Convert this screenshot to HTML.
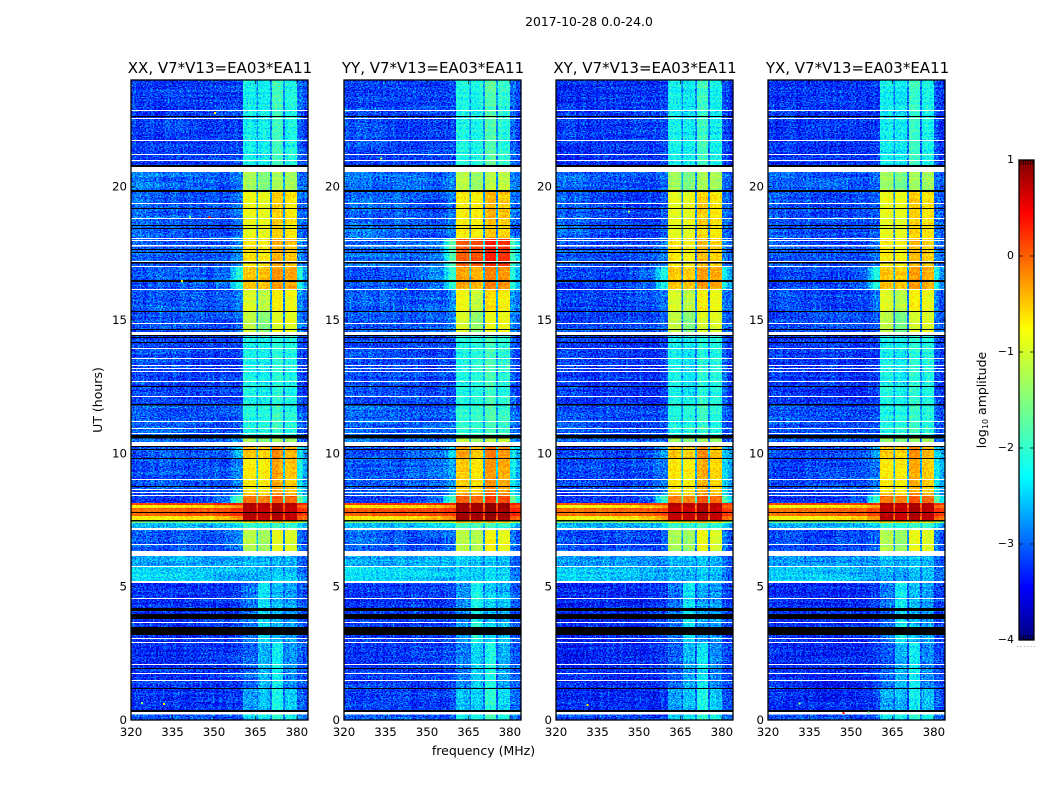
<!DOCTYPE html>
<html lang="en">
<head>
<meta charset="utf-8">
<title>2017-10-28 0.0-24.0</title>
<style>
html,body{margin:0;padding:0;background:#fff;}
svg{display:block;font-family:"DejaVu Sans","Liberation Sans",sans-serif;fill:#000;}
.tick-label{font-size:11.8px;}
.panel-title{font-size:15px;}
.axis-title{font-size:12.5px;}
</style>
</head>
<body>
<svg id="figure" xmlns="http://www.w3.org/2000/svg" width="1050" height="800" viewBox="0 0 1050 800">
  <defs>
    <filter id="jet-speckle" x="0" y="0" width="100%" height="100%" color-interpolation-filters="sRGB">
      <feTurbulence type="fractalNoise" baseFrequency="0.6 0.8" numOctaves="2" seed="3" result="fineRaw"/>
      <feColorMatrix in="fineRaw" type="matrix" values="2 0 0 0 -0.5  2 0 0 0 -0.5  2 0 0 0 -0.5  0 0 0 0 1" result="fine"/>
      <feTurbulence type="fractalNoise" baseFrequency="0.015 0.4" numOctaves="1" seed="11" result="streakRaw"/>
      <feColorMatrix in="streakRaw" type="matrix" values="2 0 0 0 -0.5  2 0 0 0 -0.5  2 0 0 0 -0.5  0 0 0 0 1" result="streak"/>
      <feTurbulence type="fractalNoise" baseFrequency="0.3 0.012" numOctaves="1" seed="23" result="ribRaw"/>
      <feColorMatrix in="ribRaw" type="matrix" values="2 0 0 0 -0.5  2 0 0 0 -0.5  2 0 0 0 -0.5  0 0 0 0 1" result="rib"/>
      <feComposite in="SourceGraphic" in2="fine" operator="arithmetic" k1="-0.24" k2="1.12" k3="0.28" k4="-0.14" result="step1"/>
      <feComposite in="step1" in2="streak" operator="arithmetic" k1="-0.06" k2="1.03" k3="0.08" k4="-0.04" result="step2"/>
      <feComposite in="step2" in2="rib" operator="arithmetic" k1="-0.04" k2="1.02" k3="0.06" k4="-0.03" result="step3"/>
      <feComponentTransfer in="step3">
        <feFuncR id="jet-func-r" type="table" tableValues="0 1"/>
        <feFuncG id="jet-func-g" type="table" tableValues="0 1"/>
        <feFuncB id="jet-func-b" type="table" tableValues="0 1"/>
      </feComponentTransfer>
    </filter>
    <linearGradient id="jet-gradient" x1="0" y1="1" x2="0" y2="0"></linearGradient>
  </defs>

  <text x="589" y="26" text-anchor="middle" font-size="12.4">2017-10-28 0.0-24.0</text>

  <g id="panel-xx">
    <text class="panel-title" x="220" y="73" text-anchor="middle">XX, V7*V13=EA03*EA11</text>
  </g>
  <g id="panel-yy">
    <text class="panel-title" x="433" y="73" text-anchor="middle">YY, V7*V13=EA03*EA11</text>
  </g>
  <g id="panel-xy">
    <text class="panel-title" x="645" y="73" text-anchor="middle">XY, V7*V13=EA03*EA11</text>
  </g>
  <g id="panel-yx">
    <text class="panel-title" x="857.5" y="73" text-anchor="middle">YX, V7*V13=EA03*EA11</text>
  </g>

  <text class="axis-title" transform="translate(102,400) rotate(-90)" text-anchor="middle">UT (hours)</text>
  <text class="axis-title" x="483.5" y="755" text-anchor="middle">frequency (MHz)</text>

  <g id="colorbar">
    <text class="axis-title" transform="translate(986,400) rotate(-90)" text-anchor="middle">log<tspan font-size="8" dy="2">10</tspan><tspan dy="-2"> amplitude</tspan></text>
  </g>
</svg>

<script>
// ---- Axis tick data ----
const freqTicks = [320, 335, 350, 365, 380];
const hourTicks = [0, 5, 10, 15, 20];
const colorTicks = [-4, -3, -2, -1, 0, 1];
const colorTickLabels = ['\u22124', '\u22123', '\u22122', '\u22121', '0', '1'];

// ---- Heatmap data: frequency channel boundaries (MHz) ----
const channelEdges = [320, 330, 340, 350, 356, 358, 360.5, 365.3, 366, 370.3, 371, 375, 375.7, 380, 382, 384];

// ---- log10 amplitude spectra, one value per frequency channel ----
const spectrumA  = [-3.2,-3.2,-3.2,-3.2,-3.2,-3.15,-2.25,-2.8,-2.3,-2.85,-1.9,-2.85,-2.2,-3.05,-3.2];
const spectrumB  = [-3.15,-3.2,-3.2,-3.2,-3.2,-3.15,-2.25,-2.75,-2.25,-2.75,-2.05,-2.75,-2.15,-3.0,-3.15];
const spectrumB2 = [-3.0,-3.05,-3.1,-3.1,-3.1,-3.0,-2.15,-2.75,-2.1,-2.75,-1.95,-2.75,-2.1,-2.95,-3.05];
const spectrumC  = [-2.9,-3.0,-3.0,-3.1,-3.0,-2.9,-1.3,-2.7,-1.5,-2.8,-1.3,-2.8,-1.3,-2.9,-3.0];
const spectrumD  = [-3.0,-3.05,-3.1,-3.1,-3.05,-2.95,-0.85,-2.8,-0.85,-2.8,-0.55,-2.8,-0.65,-2.9,-3.0];
const spectrumD2 = [-3.0,-3.05,-3.1,-3.1,-2.95,-2.8,-0.65,-2.8,-0.7,-2.8,-0.4,-2.8,-0.5,-2.8,-2.95];
const spectrumE  = [-3.1,-3.1,-3.1,-3.0,-2.5,-2.1,-0.45,-2.6,-0.5,-2.6,-0.25,-2.6,-0.35,-2.2,-2.7];
const spectrumF  = [-3.05,-3.1,-3.1,-3.1,-3.0,-2.85,-0.95,-2.8,-1.2,-2.8,-0.7,-2.8,-0.85,-2.85,-3.0];
const spectrumF2 = [-3.1,-3.1,-3.1,-3.1,-3.05,-2.95,-1.1,-2.8,-1.5,-2.85,-0.95,-2.85,-0.95,-2.9,-3.0];
const spectrumH  = [-3.1,-3.1,-3.1,-3.1,-2.9,-2.55,-0.45,-2.5,-0.55,-2.5,-0.2,-2.5,-0.4,-2.4,-2.7];
const spectrumH2 = [-3.1,-3.1,-3.1,-3.05,-2.95,-2.8,-0.65,-2.5,-0.7,-2.6,-0.35,-2.6,-0.5,-2.3,-2.7];
const spectrumI  = [-3.2,-3.2,-3.2,-3.0,-2.3,-1.9,-0.1,-1.8,-0.15,-1.9,0.05,-1.9,-0.05,-1.7,-2.3];
const spectrumR1 = [0.15,0.2,0.2,0.25,0.3,0.3,0.8,0.2,0.75,0.2,0.85,0.2,0.8,0.35,0.3];
const spectrumR2 = [-0.75,-0.7,-0.6,-0.45,-0.3,-0.2,0.75,-0.1,0.7,-0.05,0.8,0,0.75,0.05,0.0];
const spectrumR3 = [-0.05,0,0.05,0.1,0.2,0.2,0.75,0.2,0.7,0.2,0.85,0.2,0.75,0.3,0.25];
const spectrumR4 = [-1.6,-1.6,-1.5,-1.4,-1.3,-1.2,-0.6,-1.2,-0.6,-1.2,-0.5,-1.2,-0.6,-1.1,-1.3];
const spectrumJ0 = [-2.6,-2.6,-2.6,-2.55,-2.5,-2.4,-2.0,-2.4,-2.05,-2.4,-1.9,-2.4,-2.0,-2.4,-2.6];
const spectrumJ  = [-3.05,-3.1,-3.1,-3.1,-3.05,-2.95,-1.25,-2.7,-1.35,-2.8,-0.85,-2.8,-0.95,-2.85,-3.0];
const spectrumK  = [-2.7,-2.7,-2.72,-2.72,-2.72,-2.72,-2.62,-2.85,-2.65,-2.85,-2.55,-2.85,-2.6,-2.95,-3.0];
const spectrumK2 = [-2.42,-2.45,-2.5,-2.58,-2.62,-2.65,-2.6,-2.8,-2.6,-2.8,-2.5,-2.8,-2.55,-2.9,-2.95];
const spectrumL  = [-3.25,-3.25,-3.25,-3.25,-3.2,-3.15,-2.9,-3.0,-2.35,-3.0,-2.6,-3.0,-2.75,-3.1,-3.15];
const spectrumM  = [-3.25,-3.25,-3.25,-3.25,-3.2,-3.15,-3.0,-3.05,-2.6,-3.05,-2.3,-3.05,-2.8,-3.05,-3.15];
const spectrumM2 = [-3.25,-3.25,-3.25,-3.25,-3.2,-3.15,-2.7,-3.0,-2.55,-3.0,-2.2,-3.0,-2.5,-3.05,-3.15];
const spectrumM3 = [-3.1,-3.1,-3.1,-3.15,-3.15,-3.05,-2.4,-2.85,-2.25,-2.85,-2.0,-2.85,-2.2,-2.95,-3.05];
const spectrumOrange = [-3.0,-3.0,-3.0,-2.9,-2.3,-1.8,-0.1,-2.4,-0.05,-2.4,0.2,-2.4,0.1,-2.0,-2.5];

const spectraByKind = {
  a: spectrumA, b: spectrumB, b2: spectrumB2, c: spectrumC, d: spectrumD, d2: spectrumD2,
  e: spectrumE, f: spectrumF, f2: spectrumF2, h: spectrumH, h2: spectrumH2, i: spectrumI,
  r1: spectrumR1, r2: spectrumR2, r3: spectrumR3, r4: spectrumR4, j0: spectrumJ0, j: spectrumJ,
  k: spectrumK, k2: spectrumK2, l: spectrumL, m: spectrumM, m2: spectrumM2, m3: spectrumM3,
  orange: spectrumOrange
};

// ---- Time rows: start (upper edge, hours) and spectrum kind. W = flagged (white), K = zero (black) ----
const rowTops = [
  24.00,22.875,22.84,22.65,22.61,22.58,22.54,21.75,21.71,21.23,
  21.19,21.00,20.96,20.81,20.74,20.55,19.88,19.80,19.39,19.35,
  19.20,19.16,18.83,18.79,18.56,18.53,18.45,18.41,18.08,18.04,
  18.00,17.96,17.81,17.76,17.66,17.63,17.55,17.51,17.21,17.18,
  17.12,17.03,16.99,16.50,16.43,16.16,16.13,15.34,15.30,14.89,
  14.85,14.66,14.63,14.55,14.44,14.40,14.36,14.33,14.18,14.14,
  13.95,13.91,13.58,13.54,13.31,13.28,13.20,13.16,13.09,13.05,
  12.71,12.68,12.53,12.49,12.15,12.11,11.85,11.79,11.21,11.18,
  10.95,10.91,10.76,10.73,10.69,10.56,10.43,10.28,10.24,10.16,
  10.13,9.83,9.79,9.04,9.00,8.78,8.74,8.66,8.63,8.55,
  8.51,8.44,8.40,8.14,8.06,7.95,7.80,7.76,7.65,7.50,
  7.44,7.39,7.20,7.13,6.60,6.56,6.34,6.15,5.78,5.74,
  5.21,5.14,4.58,4.54,4.20,4.09,3.98,3.79,3.68,3.64,
  3.49,3.19,3.08,3.04,2.93,2.89,2.10,2.06,1.95,1.91,
  1.76,1.73,1.50,1.46,1.20,1.16,0.38,0.30,0.21
];
const rowKinds = [
  'a','W','a','K','a','W','a','W','a','W',
  'a','W','a','K','W','c','K','d','W','d',
  'K','d','W','d','K','d','K','d','W','d2',
  'W','d2','W','d2','K','d2','K','d2','W','K',
  'd2','W','e','K','e','W','f','K','f2','W',
  'f2','K','f2','W','K','b','K','b','K','b',
  'W','b','W','b','W','b','W','b','W','b',
  'W','b','K','b','W','b','K','b2','W','b2',
  'W','b2','W','b2','K','c','W','K','h','K',
  'h','K','h2','W','h2','K','h2','W','h2','W',
  'h','W','i','r1','r2','r3','K','r3','r2','K',
  'r4','j0','W','j','W','j','W','k','W','k2',
  'W','l','W','l','K','l','K','l','W','l',
  'K','l','W','l','W','m','W','m','K','m',
  'W','m','W','m','K','m2','K','W','m3'
];

// ---- Per-panel differences (polarisation) ----
const panelBandOffset = [0, 0.12, -0.02, -0.02];
const panelBackgroundOffset = [0, 0.04, -0.06, -0.06];
const panelKindOverride = [{}, {d2: 'orange'}, {}, {}];

// ---- Isolated hot pixels: panel index, MHz, hour, log10 amplitude ----
const hotPanels = [0, 0, 0, 0, 0, 0, 1, 1, 2, 2, 3, 3, 3];
const hotFreqs  = [350, 348, 338, 341, 331.6, 323.6, 333, 342, 331, 346, 331, 347, 356];
const hotHours  = [22.8, 18.9, 16.5, 18.9, 0.64, 0.67, 21.1, 16.2, 0.6, 19.1, 0.65, 0.3, 0.32];
const hotValues = [-0.7, 0.3, -0.8, -1.5, -0.8, -1.5, -1.2, -0.9, -0.8, -1.2, -1.4, 0.4, -1.6];

// ---- Colormap definition ----
const jetStops = [0, 0.11, 0.34, 0.65, 0.89, 1];
const jetReds = [0, 0, 0, 1, 1, 0.5];
const jetGreens = [0, 0, 1, 1, 0, 0];
const jetBlues = [0.5, 1, 1, 0, 0, 0];

// ---- Layout (not data) ----
const NS = 'http://www.w3.org/2000/svg';
const plotTop = 80, plotBottom = 720;
const panelIds = ['panel-xx', 'panel-yy', 'panel-xy', 'panel-yx'];
const panelNames = ['xx', 'yy', 'xy', 'yx'];
const panelLefts = [131, 344, 556, 768];
const panelWidth = 177;
const cbLeft = 1019, cbRight = 1034, cbTop = 160, cbBottom = 640;
const freqMin = 320, freqMax = 384, hourMin = 0, hourMax = 24, valMin = -4, valMax = 1;
const bandChannels = [6, 8, 10, 12];
const lutSize = 128;

function xScale(panel, mhz) { return panelLefts[panel] + (mhz - freqMin) / (freqMax - freqMin) * panelWidth; }
function yScale(hour) { return plotBottom - (hour - hourMin) / (hourMax - hourMin) * (plotBottom - plotTop); }
function cbScale(v) { return cbBottom - (v - valMin) / (valMax - valMin) * (cbBottom - cbTop); }
function normalize(v) { return Math.min(1, Math.max(0, (v - valMin) / (valMax - valMin))); }

function jetChannel(t, table) {
  for (let i = 1; i < jetStops.length; i++) {
    if (t <= jetStops[i]) {
      const f = (t - jetStops[i - 1]) / (jetStops[i] - jetStops[i - 1]);
      return table[i - 1] + f * (table[i] - table[i - 1]);
    }
  }
  return table[table.length - 1];
}
function jetColor(v) {
  const t = normalize(v);
  return 'rgb(' + Math.round(255 * jetChannel(t, jetReds)) + ',' + Math.round(255 * jetChannel(t, jetGreens)) + ',' + Math.round(255 * jetChannel(t, jetBlues)) + ')';
}
// Cells are painted as grey = normalised value; the SVG filter adds speckle, then maps grey through jet.
function valueGrey(v) {
  const g = Math.round(255 * normalize(v));
  return 'rgb(' + g + ',' + g + ',' + g + ')';
}
function make(tag, attrs, parent) {
  const el = document.createElementNS(NS, tag);
  for (const k in attrs) el.setAttribute(k, attrs[k]);
  parent.appendChild(el);
  return el;
}

function buildJetLookup() {
  const sets = [['jet-func-r', jetReds], ['jet-func-g', jetGreens], ['jet-func-b', jetBlues]];
  sets.forEach(function (pair) {
    const entries = [];
    for (let i = 0; i <= lutSize; i++) entries.push(jetChannel(i / lutSize, pair[1]).toFixed(4));
    document.getElementById(pair[0]).setAttribute('tableValues', entries.join(' '));
  });
}

function drawPanel(p) {
  const group = document.getElementById(panelIds[p]);
  const left = panelLefts[p], right = left + panelWidth;

  const heat = make('g', {'shape-rendering': 'crispEdges', filter: 'url(#jet-speckle)'}, group);
  
  

  const flags = make('g', {'shape-rendering': 'crispEdges'}, group);
  
  

  rowKinds.forEach(function (rawKind, r) {
    const y0 = yScale(rowTops[r]);
    const y1 = yScale(r + 1 < rowTops.length ? rowTops[r + 1] : hourMin);
    if (rawKind === 'W' || rawKind === 'K') {
      const bar = make('rect', {x: left, y: y0, width: panelWidth, height: y1 - y0, fill: rawKind === 'W' ? '#fff' : '#000'}, flags);
      
      
      return;
    }
    const kind = panelKindOverride[p][rawKind] || rawKind;
    spectraByKind[kind].forEach(function (value, c) {
      const offset = bandChannels.indexOf(c) >= 0 ? panelBandOffset[p] : panelBackgroundOffset[p];
      const x0 = xScale(p, channelEdges[c]);
      const x1 = xScale(p, channelEdges[c + 1]);
      const cell = make('rect', {x: x0, y: y0, width: x1 - x0, height: y1 - y0, fill: valueGrey(value + offset)}, heat);
      
      
    });
  });

  hotFreqs.forEach(function (mhz, i) {
    if (hotPanels[i] !== p) return;
    const dot = make('rect', {x: xScale(p, mhz), y: yScale(hotHours[i]), width: 2, height: 2, fill: jetColor(hotValues[i])}, flags);
    
    
  });

  const frame = make('rect', {x: left, y: plotTop, width: panelWidth, height: plotBottom - plotTop, fill: 'none', stroke: '#000', 'stroke-width': 1.3}, group);
  
  

  freqTicks.forEach(function (f, i) {
    const x = xScale(p, f);
    const tb = make('line', {x1: x, x2: x, y1: plotBottom, y2: plotBottom - 4, stroke: '#000', 'stroke-width': 0.7}, group);
    
    
    const tt = make('line', {x1: x, x2: x, y1: plotTop, y2: plotTop + 4, stroke: '#000', 'stroke-width': 0.7}, group);
    
    
    const label = make('text', {x: x, y: 736, 'text-anchor': 'middle', class: 'tick-label'}, group);
    label.textContent = String(freqTicks[i]);
    
    
  });

  hourTicks.forEach(function (h) {
    const y = yScale(h);
    const tl = make('line', {x1: left, x2: left + 4, y1: y, y2: y, stroke: '#000', 'stroke-width': 0.7}, group);
    
    
    const tr = make('line', {x1: right, x2: right - 4, y1: y, y2: y, stroke: '#000', 'stroke-width': 0.7}, group);
    
    
    const label = make('text', {x: left - 4, y: y + 4, 'text-anchor': 'end', class: 'tick-label'}, group);
    label.textContent = String(h);
    
    
  });
}

function drawColorbar() {
  const group = document.getElementById('colorbar');
  const gradient = document.getElementById('jet-gradient');
  jetStops.forEach(function (s, i) {
    make('stop', {offset: s, 'stop-color': 'rgb(' + Math.round(255 * jetReds[i]) + ',' + Math.round(255 * jetGreens[i]) + ',' + Math.round(255 * jetBlues[i]) + ')'}, gradient);
  });
  const bar = make('rect', {x: cbLeft, y: cbTop, width: cbRight - cbLeft, height: cbBottom - cbTop, fill: 'url(#jet-gradient)', stroke: '#000', 'stroke-width': 1.3}, group);
  
  

  colorTicks.forEach(function (v, i) {
    const y = cbScale(v);
    const a = make('line', {x1: cbLeft, x2: cbLeft + 4, y1: y, y2: y, stroke: '#000', 'stroke-width': 0.7}, group);
    
    
    const b = make('line', {x1: cbRight, x2: cbRight - 4, y1: y, y2: y, stroke: '#000', 'stroke-width': 0.7}, group);
    
    
    const label = make('text', {x: cbLeft - 5, y: y + 3, 'text-anchor': 'end', class: 'tick-label', style: 'font-size:11px'}, group);
    label.textContent = colorTickLabels[i];
    
    
  });

  for (let n = 0; n < 6; n++) {
    const x = cbLeft + 2 + n * 2.4;
    const t1 = make('line', {x1: x, x2: x, y1: cbTop, y2: cbTop + 5, stroke: '#000', 'stroke-width': 0.7}, group);
    
    
    const t2 = make('line', {x1: x, x2: x, y1: cbBottom, y2: cbBottom - 5, stroke: '#000', 'stroke-width': 0.7}, group);
    
    
    const dot = make('rect', {x: cbLeft - 2 + n * 3.4, y: 646, width: 1, height: 1, fill: '#999'}, group);
    
    
  }
}

buildJetLookup();
panelIds.forEach(function (id, p) { drawPanel(p); });
drawColorbar();
</script>
</body>
</html>
